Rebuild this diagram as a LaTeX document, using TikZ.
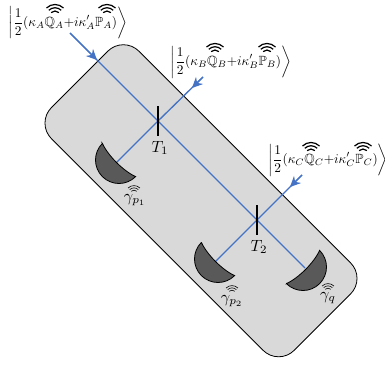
\documentclass[tikz,border=0pt]{standalone}
\usepackage{amsmath,amssymb}
\usetikzlibrary{arrows.meta}
\tikzset{
  cavity/.style={draw=black, line width=0.6pt, fill=black!15, rounded corners=16.5pt,
    minimum width=257.5pt, minimum height=92.8pt, inner sep=0pt},
  beam/.style={draw=beamblue, line width=1pt},
  beamin/.style={beam, -{Stealth[length=8pt,width=7.5pt]}},
  splitter/.style={draw=black, line width=1.3pt},
  bigmath/.style={scale=1.22},
  mirror/.pic={
    \draw[black, line width=0.6pt, fill=black!65] (-23.5,0) arc[start angle=180, end angle=0, radius=23.5]
      .. controls (11,4.7) and (-11,4.7) .. cycle;
  },
  wifi/.pic={
    \foreach \r in {5.5,8.75,12}
      \draw[line width=0.9pt] ([shift={(0,7.5)}]-135:\r) arc[start angle=-135, end angle=-45, radius=\r];
  },
  smallwifi/.pic={
    \foreach \r in {5.5,8.75,12}
      \draw[line width=0.45pt] ([shift={(0,6)}]-135:\r*0.7) arc[start angle=-135, end angle=-45, radius=\r*0.7];
  }
}
\definecolor{beamblue}{HTML}{4472C4}
\begin{document}
\begin{tikzpicture}[x=0.75pt, y=-0.75pt]
  \useasboundingbox (0,0) rectangle (385,364);
  \node[cavity, rotate=-45] (box) at (201,200.75) {};
  % beam paths
  \coordinate (T1) at (158,121);
  \coordinate (T2) at (257,220);
  \coordinate (inA) at (70,33);
  \coordinate (tipA) at (97,60);
  \coordinate (inB) at (203,77);
  \coordinate (tipB) at (192,88);
  \coordinate (inC) at (302,175);
  \coordinate (tipC) at (290,187);
  \coordinate (endP1) at (116.5,162.5);
  \coordinate (endP2) at (215.5,261.5);
  \coordinate (endQ) at (305,268);
  \draw[beam] (inA) -- (T1) -- (T2) -- (endQ);
  \draw[beam] (inB) -- (T1) -- (endP1);
  \draw[beam] (inC) -- (T2) -- (endP2);
  \draw[beamin] (inA) -- (tipA);
  \draw[beamin] (inB) -- (tipB);
  \draw[beamin] (inC) -- (tipC);
  % beam splitters
  \draw[splitter] (158,106) -- (158,136);
  \draw[splitter] (257,205) -- (257,235);
  \node[bigmath] (labelT1) at (160,148) {$T_1$};
  \node[bigmath] (labelT2) at (259,247) {$T_2$};
  % mirrors
  \pic[rotate=-45] at (119,160) {mirror};
  \pic[rotate=-45] at (218,259) {mirror};
  \pic[rotate=45] at (303,267) {mirror};
  \node[bigmath] (gammaP1) at (135,200) {$\gamma_{p_1}$};
  \node[bigmath] (gammaP2) at (232,301) {$\gamma_{p_2}$};
  \node[bigmath] (gammaQ) at (328,298) {$\gamma_q$};
  \pic at (134,188) {smallwifi};
  \pic at (232,288) {smallwifi};
  \pic at (328,286) {smallwifi};
  % input states
  \node (ketA) at (68,23) {$\displaystyle\left|\frac{1}{2}(\kappa_A\mathbb{Q}_A{+}i\kappa'_A\mathbb{P}_A)\right\rangle$};
  \node (ketB) at (231,62) {$\displaystyle\left|\frac{1}{2}(\kappa_B\mathbb{Q}_B{+}i\kappa'_B\mathbb{P}_B)\right\rangle$};
  \node (ketC) at (328,160) {$\displaystyle\left|\frac{1}{2}(\kappa_C\mathbb{Q}_C{+}i\kappa'_C\mathbb{P}_C)\right\rangle$};
  \foreach \p in {(55,9),(107,9),(215,48),(267,48),(311,147),(363,147)}
    \pic at \p {wifi};
\end{tikzpicture}
\end{document}
